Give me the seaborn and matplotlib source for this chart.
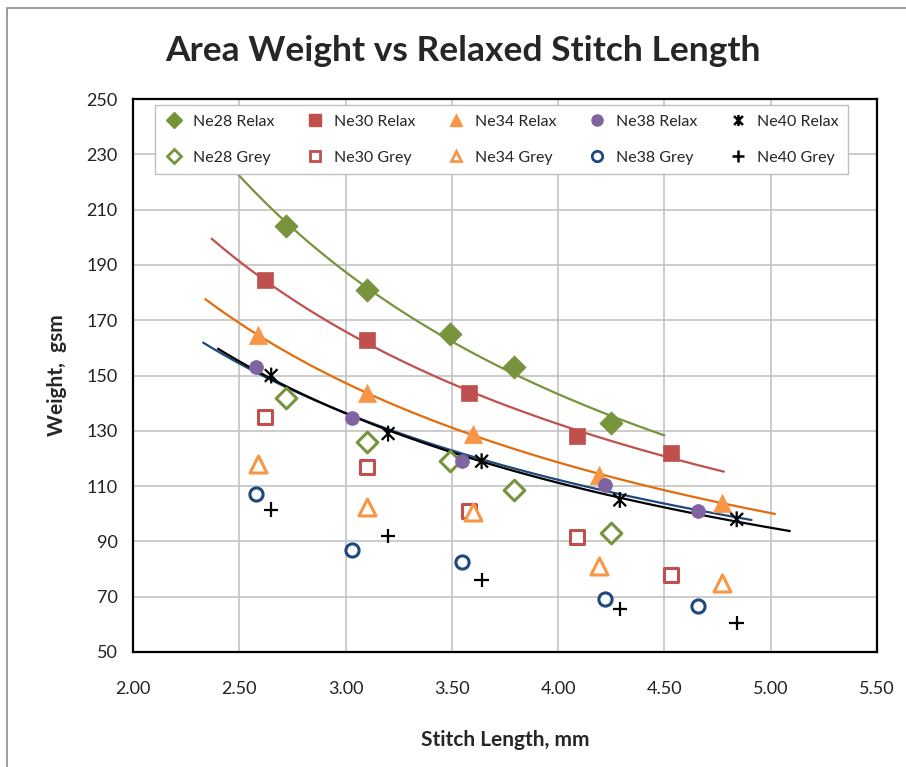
import numpy as np
import pandas as pd
import seaborn as sns
import matplotlib.pyplot as plt
from matplotlib.path import Path
from matplotlib.patches import Rectangle
from matplotlib.lines import Line2D

# stitch length (mm) and area weight (gsm)
ne28_x = [2.72, 3.10, 3.49, 3.79, 4.25]
ne28_relax = [204, 181, 165, 153, 133]
ne28_grey = [142, 126, 119, 108.5, 93]

ne30_x = [2.62, 3.10, 3.58, 4.09, 4.53]
ne30_relax = [184.5, 163, 143.5, 128, 122]
ne30_grey = [135, 117, 101, 91.5, 78]

ne34_x = [2.59, 3.10, 3.60, 4.19, 4.77]
ne34_relax = [164.5, 143.5, 129, 114, 104]
ne34_grey = [118, 102.5, 100.5, 81, 75]

ne38_x = [2.58, 3.03, 3.55, 4.22, 4.66]
ne38_relax = [153, 134.5, 119, 110.5, 101]
ne38_grey = [107, 87, 82.5, 69, 66.5]

ne40_x = [2.65, 3.20, 3.64, 4.29, 4.84]
ne40_relax = [150, 129, 119, 105, 98]
ne40_grey = [101.5, 92, 76, 65.5, 60.5]

counts = ['Ne28', 'Ne30', 'Ne34', 'Ne38', 'Ne40']
trend_colors = ['#77933C', '#C0504D', '#E46C0A', '#1F497D', '#000000']
marker_colors = ['#77933C', '#C0504D', '#F79646', '#8064A2', '#000000']
grey_colors = ['#77933C', '#C0504D', '#F79646', '#1F497D', '#000000']
forecast = 0.25  # trendline forward/backward forecast, mm

sns.set_style('white')
plt.rcParams['font.family'] = ['Lato', 'DejaVu Sans']

fig = plt.figure(figsize=(9.06, 7.67), dpi=100, facecolor='white')
ax = fig.add_axes([133 / 906, 115 / 767, 744 / 906, 553 / 767])

# outer chart-area border
fig.patches.append(Rectangle((7 / 906, -0.01), 1.0, (767 - 8) / 767 + 0.01,
                             transform=fig.transFigure, fill=False,
                             edgecolor='#8c8c8c', lw=1.2, zorder=0))

# asterisk marker like Excel's star
star = Path([(-1, -1), (1, 1), (-1, 1), (1, -1), (0, -1.25), (0, 1.25)],
            [Path.MOVETO, Path.LINETO, Path.MOVETO, Path.LINETO,
             Path.MOVETO, Path.LINETO])
cross = Path([(-1, 0), (1, 0), (0, -1), (0, 1)],
             [Path.MOVETO, Path.LINETO, Path.MOVETO, Path.LINETO])

series = [
    (ne28_x, ne28_relax, ne28_grey),
    (ne30_x, ne30_relax, ne30_grey),
    (ne34_x, ne34_relax, ne34_grey),
    (ne38_x, ne38_relax, ne38_grey),
    (ne40_x, ne40_relax, ne40_grey),
]

relax_style = [('D', 140), ('s', 130), ('^', 170), ('o', 100), (star, 130)]
grey_style = [('D', 110), ('s', 110), ('^', 150), ('o', 90), (cross, 110)]

handles = []
for i, (xs, rel, gry) in enumerate(series):
    df = pd.DataFrame({'x': xs, 'relax': rel, 'grey': gry})

    # power trendline on relaxed weight
    b, ln_a = np.polyfit(np.log(df['x']), np.log(df['relax']), 1)
    tx = np.linspace(df['x'].min() - forecast, df['x'].max() + forecast, 120)
    tdf = pd.DataFrame({'x': tx, 'y': np.exp(ln_a) * tx ** b})
    sns.lineplot(data=tdf, x='x', y='y', ax=ax, color=trend_colors[i],
                 lw=1.6, zorder=3)

    m, s = relax_style[i]
    if i == 4:
        sns.scatterplot(data=df, x='x', y='relax', ax=ax, marker=m, s=s,
                        facecolor='none', edgecolor='black', linewidth=1.6,
                        zorder=4)
    else:
        sns.scatterplot(data=df, x='x', y='relax', ax=ax, marker=m, s=s,
                        color=marker_colors[i], edgecolor=marker_colors[i],
                        linewidth=0.5, zorder=4)

    m2, s2 = grey_style[i]
    if i == 4:
        sns.scatterplot(data=df, x='x', y='grey', ax=ax, marker=m2, s=s2,
                        facecolor='none', edgecolor='black', linewidth=1.6,
                        zorder=4)
    else:
        sns.scatterplot(data=df, x='x', y='grey', ax=ax, marker=m2, s=s2,
                        facecolor='white', edgecolor=grey_colors[i],
                        linewidth=2.2, zorder=4)

    if i == 4:
        h1 = Line2D([], [], ls='', marker=m, markersize=8, markerfacecolor='none',
                    markeredgecolor='black', markeredgewidth=1.8)
        h2 = Line2D([], [], ls='', marker=m2, markersize=8, markerfacecolor='none',
                    markeredgecolor='black', markeredgewidth=1.8)
    else:
        h1 = Line2D([], [], ls='', marker=m, markersize=8,
                    markerfacecolor=marker_colors[i], markeredgecolor=marker_colors[i])
        h2 = Line2D([], [], ls='', marker=m2, markersize=7.5, markerfacecolor='white',
                    markeredgecolor=grey_colors[i], markeredgewidth=2)
    handles += [(h1, counts[i] + ' Relax'), (h2, counts[i] + ' Grey')]

ax.set_xlim(2.0, 5.5)
ax.set_ylim(50, 250)
ax.set_xticks(np.arange(2.0, 5.51, 0.5))
ax.set_yticks(np.arange(50, 251, 20))
ax.xaxis.set_major_formatter(plt.FormatStrFormatter('%.2f'))
ax.grid(True, color='#c4c4c4', lw=1.2)
ax.set_axisbelow(True)
for sp in ax.spines.values():
    sp.set_visible(True)
    sp.set_color('black')
    sp.set_linewidth(1.6)
ax.tick_params(axis='both', direction='out', length=5, width=1.4, color='black',
               labelsize=13, labelcolor='#222222', pad=6)
ax.tick_params(axis='x', pad=16)

ax.set_xlabel('Stitch Length, mm', fontsize=15, fontweight='bold', labelpad=24)
ax.set_ylabel('Weight,  gsm', fontsize=15, fontweight='bold', labelpad=14)
fig.text(0.511, 0.933, 'Area Weight vs Relaxed Stitch Length', ha='center',
         va='center', fontsize=25.5, fontweight='bold')

leg = ax.legend([h for h, _ in handles], [t for _, t in handles], ncol=5,
                loc='upper left', bbox_to_anchor=(0.0296, 0.862, 0.9315, 0.127),
                mode='expand', fontsize=11.5, frameon=True, fancybox=False,
                edgecolor='#bfbfbf', framealpha=1, handletextpad=0.6,
                columnspacing=0.8, borderpad=0.6, labelspacing=1.35,
                handlelength=1.2, borderaxespad=0)
leg.get_frame().set_linewidth(1.0)
leg.set_zorder(10)

fig.savefig('out.png', dpi=100, facecolor='white')
